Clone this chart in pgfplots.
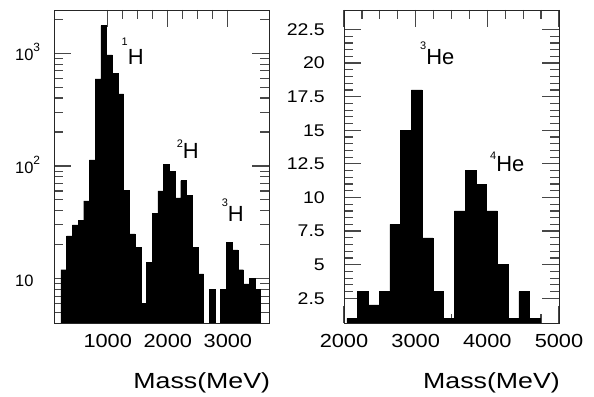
\documentclass[border=0pt]{standalone}
\usepackage{pgfplots}
\pgfplotsset{compat=1.18}
\usepackage{fontspec}
\setmainfont{Liberation Sans}
\newfontfamily\wf{Liberation Sans}[FakeStretch=1.15]
\newfontfamily\ww{Liberation Sans}[FakeStretch=1.22]

\pgfplotstableread{
x y
220 12
315 24
410 30
505 33
600 49
695 113
790 592
885 1758
980 966
1075 664
1170 435
1265 61
1360 25
1455 19
1550 6
1645 14
1740 38
1835 60
1930 104
2025 89
2120 52
2215 74
2310 55
2405 19
2500 11
2595 1
2690 8
2785 1
2880 8
2975 21
3070 18
3165 12
3260 9
3355 10
3450 8
3545 8
}\hydrogen

\pgfplotstableread{
x y
2040 1
2190 3
2340 2
2490 3
2640 8
2790 15
2940 18
3090 7
3240 3
3390 1
3540 9
3690 12
3840 11
3990 9
4140 5
4290 1
4440 3
4590 1
4740 1
}\helium

\pgfplotsset{
  hist/.style={
    scale only axis,
    anchor=south west,
    width=215bp, height=313bp,
    axis line style={black!85, line width=0.8bp},
    xtick style={black!72, line width=1.2bp},
    ytick style={black!72, line width=1.2bp},
    major tick length=17bp,
    minor tick length=9bp,
    /pgf/number format/assume math mode=true,
    /pgf/number format/1000 sep={},
    xticklabel style={font=\fontsize{19}{19}\selectfont\wf, anchor=center, inner sep=0pt, yshift=-17.5bp},
    xlabel={Mass(MeV)},
    xlabel style={at={(axis description cs:1,0)}, anchor=base east, inner sep=0pt, xshift=1bp, yshift=-65bp, font=\fontsize{22}{22}\selectfont\ww},
  },
}

\begin{document}
\begin{tikzpicture}
\path[use as bounding box] (0,0) rectangle (594bp,397bp);

% Left: hydrogen isotopes (log scale)
\begin{axis}[hist,
  at={(54.3bp,74bp)},
  ymode=log,
  xmin=110, xmax=3690,
  ymin=4.04, ymax=2420,
  xtick={1000,2000,3000},
  minor x tick num=3,
  ytick={10,100,1000},
  minor ytick={5,6,7,8,9,20,30,40,50,60,70,80,90,200,300,400,500,600,700,800,900,2000},
  yticklabels={},
  clip mode=individual,
]
\addplot[ybar interval, fill=black, draw=black] table[x=x, y=y] {\hydrogen};
\node[anchor=base west, inner sep=0pt, font=\fontsize{16.5}{16.5}\selectfont] at ([xshift=-39.3bp, yshift=-7.5bp]axis cs:110,10) {10};
\node[anchor=base west, inner sep=0pt, font=\fontsize{16.5}{16.5}\selectfont] at ([xshift=-39.3bp, yshift=-7.5bp]axis cs:110,100) {10\raisebox{9bp}{\fontsize{12}{12}\selectfont 2}};
\node[anchor=base west, inner sep=0pt, font=\fontsize{16.5}{16.5}\selectfont] at ([xshift=-39.3bp, yshift=-7.5bp]axis cs:110,1000) {10\raisebox{9bp}{\fontsize{12}{12}\selectfont 3}};
\node[anchor=base west, inner sep=0pt, font=\fontsize{22}{22}\selectfont] at (axis cs:1229,787) {\raisebox{19bp}{\fontsize{11}{11}\selectfont 1}H};
\node[anchor=base west, inner sep=0pt, font=\fontsize{22}{22}\selectfont] at (axis cs:2148,117) {\raisebox{11bp}{\fontsize{11}{11}\selectfont 2}H};
\node[anchor=base west, inner sep=0pt, font=\fontsize{22}{22}\selectfont] at (axis cs:2897,32.1) {\raisebox{15bp}{\fontsize{11}{11}\selectfont 3}H};
\end{axis}

% Right: helium isotopes (linear)
\begin{axis}[hist,
  at={(344bp,74bp)},
  xmin=2000, xmax=5000,
  ymin=0.66, ymax=23.95,
  xtick={2000,3000,4000,5000},
  minor x tick num=3,
  ytick={2.5,5,7.5,10,12.5,15,17.5,20,22.5},
  minor y tick num=4,
  yticklabel style={font=\fontsize{17}{17}\selectfont\wf, anchor=east, inner sep=0pt, xshift=-19bp},
]
\addplot[ybar interval, fill=black, draw=black] table[x=x, y=y] {\helium};
\node[anchor=base west, inner sep=0pt, font=\fontsize{22}{22}\selectfont] at (axis cs:3060,19.86) {\raisebox{15bp}{\fontsize{11}{11}\selectfont 3}He};
\node[anchor=base west, inner sep=0pt, font=\fontsize{22}{22}\selectfont] at (axis cs:4037,11.92) {\raisebox{12bp}{\fontsize{11}{11}\selectfont 4}He};
\end{axis}
\end{tikzpicture}
\end{document}
